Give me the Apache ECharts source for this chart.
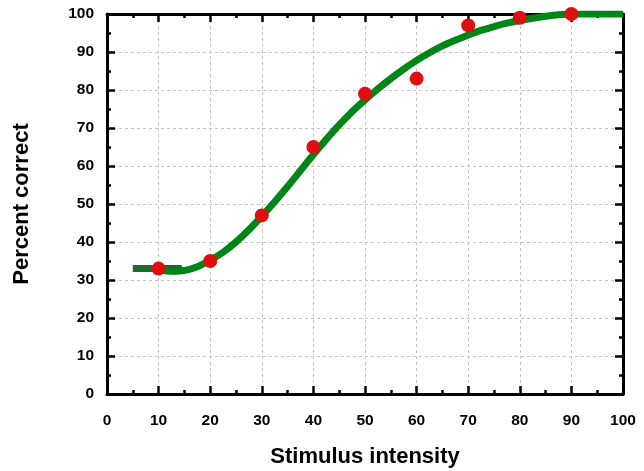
<!DOCTYPE html>
<html><head><meta charset="utf-8">
<script src="https://cdn.jsdelivr.net/npm/echarts@6/dist/echarts.min.js"></script>
<style>html,body{margin:0;padding:0;background:#fff}#c{width:644px;height:471px}</style>
</head><body><div id="c"></div>
<script>
// Observed data points
const stimulus = [10, 20, 30, 40, 50, 60, 70, 80, 90];
const percentCorrect = [33, 35, 47, 65, 79, 83, 97, 99, 100];
// Fitted curve
const fitX = [10, 12.5, 15, 17.5, 20, 22.5, 25, 27.5, 30, 32.5, 35, 37.5, 40, 42.5, 45, 47.5, 50, 52.5, 55, 57.5, 60, 62.5, 65, 67.5, 70, 72.5, 75, 77.5, 80, 82.5, 85, 87.5, 90, 95, 100];
const fitY = [32.6, 32.3, 32.5, 33.5, 35.2, 37.3, 40, 43.2, 46.8, 50.6, 54.6, 58.8, 63, 67, 70.8, 74.3, 77.4, 80.3, 83, 85.5, 87.8, 89.8, 91.6, 93.1, 94.5, 95.7, 96.7, 97.6, 98.3, 98.9, 99.4, 99.8, 100, 100, 100];
// Lower-asymptote segment
const baseX = [5, 14.5];
const baseY = [33, 33];
const tickValues = [0, 10, 20, 30, 40, 50, 60, 70, 80, 90, 100];
const xTitle = 'Stimulus intensity';
const yTitle = 'Percent correct';

const font = 'Liberation Sans, Arial, Helvetica, sans-serif';
const zip = (a, b) => a.map((v, i) => [v, b[i]]);
const axisBase = (pos, showLabel) => ({
  type: 'value', min: tickValues[0], max: tickValues[tickValues.length - 1], interval: 10, position: pos,
  axisLine: {show: true, onZero: false, lineStyle: {color: '#000', width: 3}},
  axisTick: {show: true, inside: true, length: 8, lineStyle: {color: '#000', width: 2.5}},
  minorTick: {show: true, splitNumber: 2, length: 4, lineStyle: {color: '#000', width: 2.5}},
  axisLabel: {show: showLabel, color: '#000', fontFamily: font, fontWeight: 'bold', fontSize: 15.5},
  splitLine: {show: false}
});
const gridLine = {show: true, lineStyle: {color: '#c4c4c4', type: [3, 3], width: 1}};
const xb = axisBase('bottom', true);
xb.axisLabel.margin = 19;
xb.name = xTitle; xb.nameLocation = 'middle'; xb.nameGap = 52;
xb.nameTextStyle = {color: '#000', fontFamily: font, fontWeight: 'bold', fontSize: 22};
xb.splitLine = gridLine;
const yl = axisBase('left', true);
yl.axisLabel.margin = 13;
yl.name = yTitle; yl.nameLocation = 'middle'; yl.nameGap = 74;
yl.nameTextStyle = {color: '#000', fontFamily: font, fontWeight: 'bold', fontSize: 22};
yl.splitLine = gridLine;
const xt = axisBase('top', false);
const yr = axisBase('right', false);

const chart = echarts.init(document.getElementById('c'), null, {renderer: 'canvas'});
chart.setOption({
  animation: false,
  backgroundColor: '#fff',
  grid: {left: 107, right: 21, top: 14, bottom: 77, containLabel: false, outerBoundsMode: 'none'},
  xAxis: [xb, xt],
  yAxis: [yl, yr],
  series: [
    {type: 'line', data: zip(baseX, baseY), symbol: 'none', lineStyle: {color: '#1c6b2a', width: 7}, z: 2},
    {type: 'line', data: zip(fitX, fitY), smooth: 0.3, symbol: 'none', lineStyle: {color: '#008516', width: 7}, z: 3},
    {type: 'scatter', data: zip(stimulus, percentCorrect), symbol: 'circle', symbolSize: 14, itemStyle: {color: '#e00f0f', opacity: 1}, z: 4}
  ]
});
</script></body></html>
